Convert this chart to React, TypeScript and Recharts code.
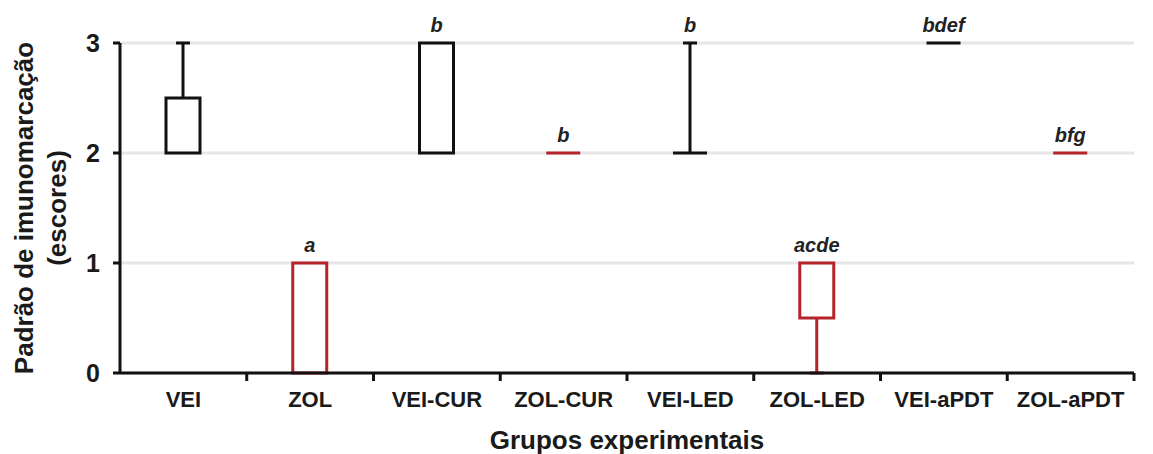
import { Bar, CartesianGrid, ComposedChart, XAxis, YAxis } from 'recharts'

const groups = ['VEI', 'ZOL', 'VEI-CUR', 'ZOL-CUR', 'VEI-LED', 'ZOL-LED', 'VEI-aPDT', 'ZOL-aPDT']
const minima = [2, 0, 2, 2, 2, 0, 3, 2]
const lowerQuartiles = [2, 0, 2, 2, 2, 0.5, 3, 2]
const upperQuartiles = [2.5, 1, 3, 2, 2, 1, 3, 2]
const maxima = [3, 1, 3, 2, 3, 1, 3, 2]
const letters = ['', 'a', 'b', 'b', 'b', 'acde', 'bdef', 'bfg']
const yTicks = [0, 1, 2, 3]

const BLACK = '#111111'
const RED = '#b5232b'
const FONT = '"Liberation Sans", Arial, sans-serif'
const CAP = 14

const data = groups.map((name, i) => ({
  name,
  base: minima[i],
  lowW: lowerQuartiles[i] - minima[i],
  box: upperQuartiles[i] - lowerQuartiles[i],
  highW: maxima[i] - upperQuartiles[i],
  letter: letters[i],
}))

const colourOf = (name: string) => (name.startsWith('ZOL') ? RED : BLACK)

const Empty = () => <g />

const LowWhisker = (p: any) => {
  const { x, y, width, height, payload } = p
  if (!height) return <g />
  const cx = x + width / 2
  const c = colourOf(payload.name)
  return (
    <g>
      <line x1={cx} x2={cx} y1={y} y2={y + height} stroke={c} strokeWidth={3} />
      <line x1={cx - CAP / 2} x2={cx + CAP / 2} y1={y + height} y2={y + height} stroke={c} strokeWidth={3} />
    </g>
  )
}

const BoxShape = (p: any) => {
  const { x, y, width, height, payload } = p
  const c = colourOf(payload.name)
  if (!height) {
    return <line x1={x} x2={x + width} y1={y} y2={y} stroke={c} strokeWidth={3} />
  }
  return <rect x={x} y={y} width={width} height={height} fill="none" stroke={c} strokeWidth={3} />
}

const HighWhisker = (p: any) => {
  const { x, y, width, height, payload } = p
  const cx = x + width / 2
  const c = colourOf(payload.name)
  return (
    <g>
      {height > 0 && (
        <>
          <line x1={cx} x2={cx} y1={y} y2={y + height} stroke={c} strokeWidth={3} />
          <line x1={cx - CAP / 2} x2={cx + CAP / 2} y1={y} y2={y} stroke={c} strokeWidth={3} />
        </>
      )}
      {payload.letter && (
        <text
          x={cx}
          y={y - 11}
          textAnchor="middle"
          fontFamily={FONT}
          fontSize={20}
          fontWeight="bold"
          fontStyle="italic"
          fill="#222"
        >
          {payload.letter}
        </text>
      )}
    </g>
  )
}

const XTick = (p: any) => {
  const { x, y, payload } = p
  const half = payload.offset || 63.4
  return (
    <g>
      <line x1={x + half} x2={x + half} y1={y} y2={y + 8} stroke={BLACK} strokeWidth={3} />
      <text x={x} y={y + 34} textAnchor="middle" fontFamily={FONT} fontSize={22} fontWeight="bold" fill="#1a1a1a">
        {payload.value}
      </text>
    </g>
  )
}

const YTitle = () => (
  <g fontFamily={FONT} fontSize={26} fontWeight="bold" fill="#1a1a1a">
    <text x={33} y={208} textAnchor="middle" transform="rotate(-90, 33, 208)">
      Padrão de imunomarcação
    </text>
    <text x={66} y={208} textAnchor="middle" transform="rotate(-90, 66, 208)">
      (escores)
    </text>
  </g>
)

const XTitle = () => (
  <text x={627} y={449} textAnchor="middle" fontFamily={FONT} fontSize={26} fontWeight="bold" fill="#1a1a1a">
    Grupos experimentais
  </text>
)

export default function App() {
  return (
    <div style={{ position: 'absolute', left: 0, top: 0, width: 1153, height: 454, background: '#fff' }}>
      <ComposedChart width={1153} height={454} data={data} margin={{ top: 43, right: 19, bottom: 0, left: 0 }}>
        <CartesianGrid horizontal vertical={false} stroke="#e6e6e6" strokeWidth={3} />
        <XAxis
          dataKey="name"
          height={81}
          interval={0}
          axisLine={{ stroke: BLACK, strokeWidth: 3 }}
          tickLine={false}
          tickSize={0}
          tickMargin={0}
          tick={<XTick />}
          label={{ content: () => <XTitle /> }}
        />
        <YAxis
          type="number"
          domain={[0, 3]}
          ticks={yTicks}
          interval={0}
          width={120}
          axisLine={{ stroke: BLACK, strokeWidth: 3 }}
          tickLine={{ stroke: BLACK, strokeWidth: 3 }}
          tickSize={7}
          tickMargin={13}
          tick={{ fontSize: 25, fontWeight: 'bold', fill: '#1a1a1a', fontFamily: FONT }}
          label={{ content: () => <YTitle /> }}
        />
        <Bar dataKey="base" stackId="b" barSize={34} shape={<Empty />} isAnimationActive={false} />
        <Bar dataKey="lowW" stackId="b" barSize={34} shape={<LowWhisker />} isAnimationActive={false} />
        <Bar dataKey="box" stackId="b" barSize={34} shape={<BoxShape />} isAnimationActive={false} />
        <Bar dataKey="highW" stackId="b" barSize={34} shape={<HighWhisker />} isAnimationActive={false} />
      </ComposedChart>
    </div>
  )
}
